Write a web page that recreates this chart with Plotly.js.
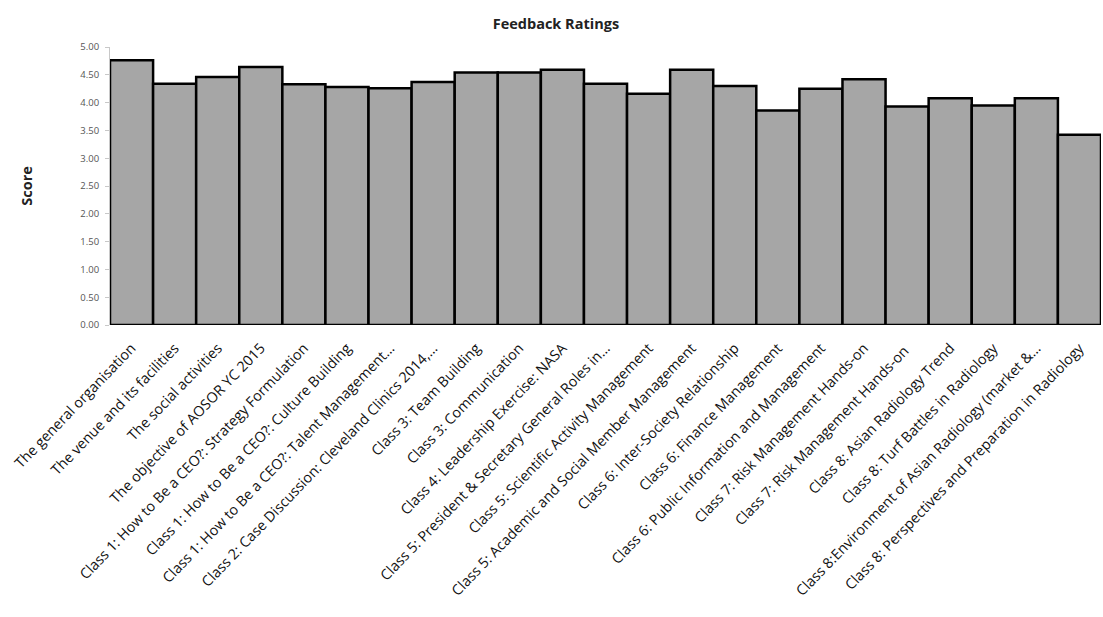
<!DOCTYPE html>
<html>
<head>
<meta charset="utf-8">
<script src="https://cdn.plot.ly/plotly-3.0.1.min.js"></script>
<style>html,body{margin:0;padding:0;background:#fff;}#chart{width:1103px;height:617px;}</style>
</head>
<body>
<div id="chart"></div>
<script>
const categories = [
  "The general organisation",
  "The venue and its facilities",
  "The social activities",
  "The objective of AOSOR YC 2015",
  "Class 1: How to Be a CEO?: Strategy Formulation",
  "Class 1: How to Be a CEO?: Culture Building",
  "Class 1: How to Be a CEO?: Talent Management…",
  "Class 2: Case Discussion: Cleveland Clinics 2014,…",
  "Class 3: Team Building",
  "Class 3: Communication",
  "Class 4: Leadership Exercise: NASA",
  "Class 5: President & Secretary General Roles in…",
  "Class 5: Scientific Activity Management",
  "Class 5: Academic and Social Member Management",
  "Class 6: Inter-Society Relationship",
  "Class 6: Finance Management",
  "Class 6: Public Information and Management",
  "Class 7: Risk Management Hands-on",
  "Class 7: Risk Management Hands-on ",
  "Class 8: Asian Radiology Trend",
  "Class 8: Turf Battles in Radiology",
  "Class 8:Environment of Asian Radiology (market &…",
  "Class 8: Perspectives and Preparation in Radiology"
];
const scores = [4.76, 4.34, 4.46, 4.64, 4.33, 4.28, 4.26, 4.37, 4.54, 4.54, 4.59, 4.34, 4.16, 4.59, 4.30, 3.86, 4.25, 4.42, 3.93, 4.08, 3.95, 4.08, 3.42];
const yTickVals = [0, 0.5, 1, 1.5, 2, 2.5, 3, 3.5, 4, 4.5, 5];
const yTickText = ["0.00","0.50","1.00","1.50","2.00","2.50","3.00","3.50","4.00","4.50","5.00"];

const trace = {
  type: "bar",
  x: categories,
  y: scores,
  marker: {color: "#a6a6a6", line: {color: "#000000", width: 2.5}},
  cliponaxis: false,
  hoverinfo: "x+y"
};

const layout = {
  width: 1103, height: 617,
  paper_bgcolor: "#ffffff", plot_bgcolor: "#ffffff",
  margin: {l: 110, r: 2, t: 47, b: 292},
  bargap: 0,
  showlegend: false,
  font: {family: "Open Sans, sans-serif", color: "#222"},
  title: {text: "<b>Feedback Ratings</b>", x: 0.504, xanchor: "center", y: 0.962, yanchor: "middle",
          font: {family: "Open Sans, sans-serif", size: 14.5, color: "#222"}},
  xaxis: {
    type: "category",
    tickangle: -46,
    tickfont: {family: "Open Sans, sans-serif", size: 14.4, color: "#111"},
    ticklabelstandoff: 11,
    showline: false, showgrid: false, zeroline: false, ticks: "",
    automargin: false
  },
  yaxis: {
    range: [0, 5],
    tickvals: yTickVals, ticktext: yTickText,
    tickfont: {family: "Open Sans, sans-serif", size: 9.5, color: "#555"},
    ticklabelstandoff: 4,
    showline: true, linecolor: "#c8c8c8", linewidth: 1,
    ticks: "outside", ticklen: 4, tickcolor: "#c8c8c8",
    showgrid: false, zeroline: false,
    title: {text: "<b>Score</b>", standoff: 44, font: {family: "Open Sans, sans-serif", size: 14.5, color: "#222"}},
    automargin: false
  }
};

Plotly.newPlot("chart", [trace], layout, {displayModeBar: false, staticPlot: true});
</script>
</body>
</html>
